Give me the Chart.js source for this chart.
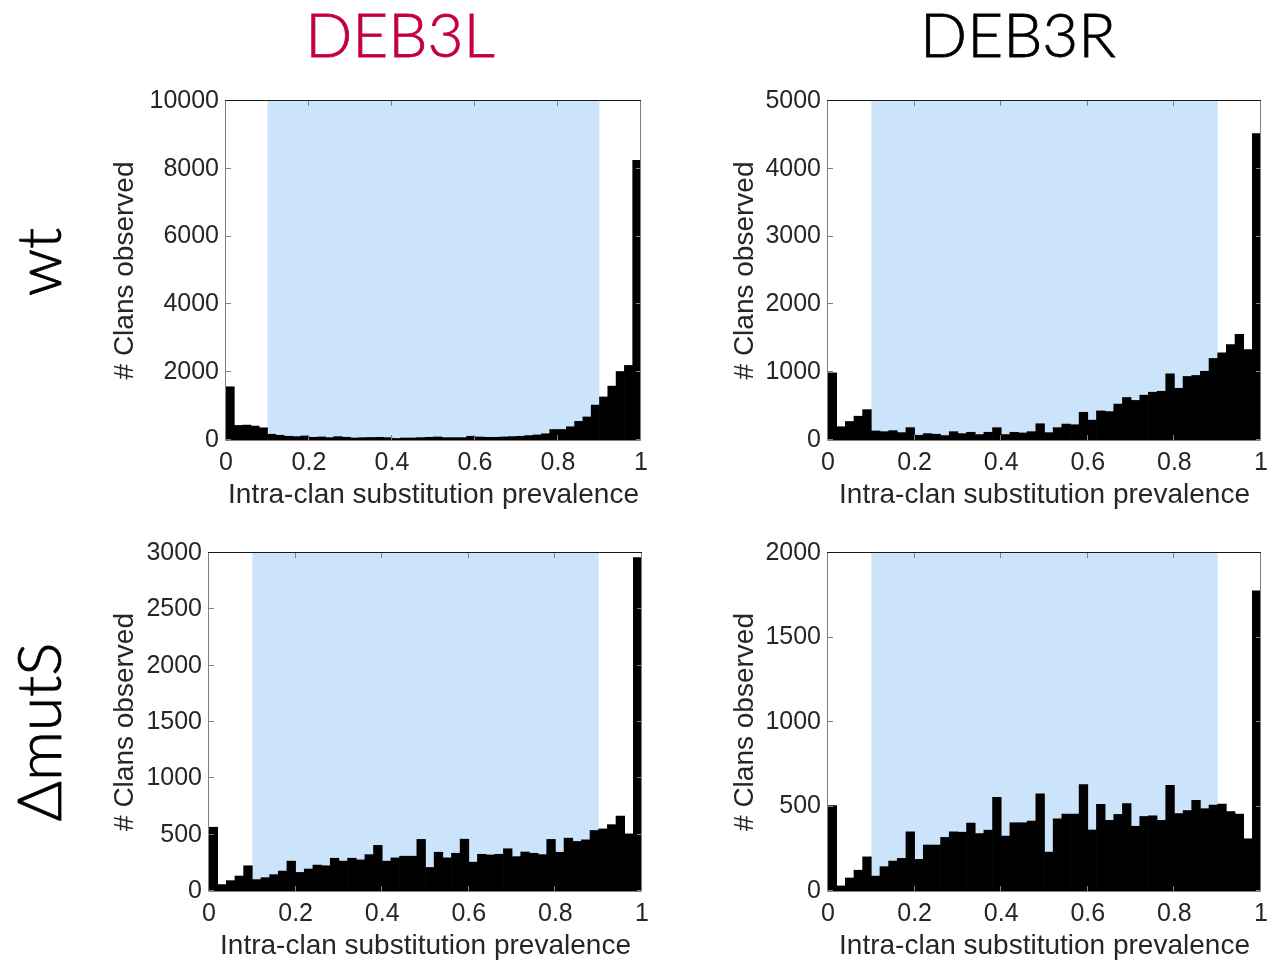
<!DOCTYPE html>
<html>
<head>
<meta charset="utf-8">
<script src="https://cdn.jsdelivr.net/npm/chart.js@4/dist/chart.umd.min.js"></script>
<style>
  html, body { margin: 0; padding: 0; background: #fff; width: 1278px; height: 966px; overflow: hidden; }
  .panel { position: absolute; }
  .col-title {
    position: absolute; width: 300px; text-align: center; white-space: nowrap;
    font-family: Lato, "Noto Sans", sans-serif; font-weight: 300; font-size: 62px; line-height: 62px;
    -webkit-text-stroke: 0.8px currentColor;
  }
  .row-title {
    position: absolute; white-space: nowrap; color: #000;
    font-family: Lato, "Noto Sans", sans-serif; font-weight: 300; font-size: 62px; line-height: 62px;
    -webkit-text-stroke: 0.8px currentColor;
    transform: translate(-50%, -50%) rotate(-90deg);
  }
</style>
</head>
<body>
<div class="col-title" style="left:250px; top:2px; color:#c1003f;">DEB3L</div>
<div class="col-title" style="left:868px; top:2px; color:#000;">DEB3R</div>
<div class="row-title" style="left:37px; top:262px;">wt</div>
<div class="row-title" style="left:37px; top:732px;">&Delta;mutS</div>

<canvas id="wtL" class="panel"></canvas>
<canvas id="wtR" class="panel"></canvas>
<canvas id="mutL" class="panel"></canvas>
<canvas id="mutR" class="panel"></canvas>

<script>
// Bin centres of the 50 prevalence bins (width 0.02)
const binCenters = [
  0.01, 0.03, 0.05, 0.07, 0.09, 0.11, 0.13, 0.15, 0.17, 0.19,
  0.21, 0.23, 0.25, 0.27, 0.29, 0.31, 0.33, 0.35, 0.37, 0.39,
  0.41, 0.43, 0.45, 0.47, 0.49, 0.51, 0.53, 0.55, 0.57, 0.59,
  0.61, 0.63, 0.65, 0.67, 0.69, 0.71, 0.73, 0.75, 0.77, 0.79,
  0.81, 0.83, 0.85, 0.87, 0.89, 0.91, 0.93, 0.95, 0.97, 0.99
];

// Clan counts per bin
const wtDEB3L = [
  1570, 430, 440, 410, 360, 170, 140, 110, 100, 120,
  80, 90, 70, 100, 80, 60, 70, 75, 80, 70,
  45, 60, 60, 70, 80, 90, 70, 70, 70, 110,
  90, 80, 80, 90, 100, 110, 130, 150, 184, 310,
  310, 390, 550, 680, 1030, 1270, 1590, 2020, 2200, 8250
];
const wtDEB3R = [
  990, 196, 273, 351, 448, 133, 123, 138, 109, 182,
  70, 94, 85, 65, 123, 94, 114, 80, 114, 182,
  80, 114, 104, 123, 240, 109, 182, 235, 225, 409,
  293, 429, 419, 530, 627, 584, 661, 705, 719, 976,
  763, 937, 952, 1014, 1203, 1286, 1407, 1558, 1334, 4520
];
const mutSDEB3L = [
  566, 57, 92, 133, 224, 101, 118, 145, 177, 265,
  165, 195, 230, 224, 291, 265, 291, 276, 323, 405,
  265, 294, 309, 309, 458, 209, 344, 294, 335, 460,
  256, 326, 320, 326, 375, 305, 346, 335, 323, 458,
  344, 469, 440, 454, 537, 551, 589, 665, 507, 2960
];
const mutSDEB3R = [
  505, 30, 77, 123, 202, 88, 144, 177, 193, 350,
  187, 272, 272, 317, 350, 348, 402, 340, 360, 555,
  325, 404, 404, 414, 575, 230, 427, 455, 455, 629,
  361, 513, 418, 453, 518, 383, 441, 445, 418, 625,
  458, 476, 536, 487, 509, 515, 470, 455, 309, 1776
];

// Shaded intermediate-prevalence window
const bandRange = [0.1, 0.9];

// Axis tick settings
const xTickStep = 0.2;
const yAxisMax = { wtL: 10000, wtR: 5000, mutL: 3000, mutR: 2000 };
const yTickStep = { wtL: 2000, wtR: 1000, mutL: 500, mutR: 500 };

const xTitle = 'Intra-clan substitution prevalence';
const yTitle = '# Clans observed';

const TEXT = '#262626';
const AXIS_GREY = '#808080';
const BAND = 'rgb(204,228,251)';
const FONT = '"Liberation Sans", Arial, sans-serif';

Chart.defaults.font.family = FONT;
Chart.defaults.color = TEXT;

// Plot-area boxes (page pixels) and the x of each y-axis title
const layout = {
  wtL:  { l: 226, t: 95,  r: 641,  b: 440, yTitleX: 125 },
  wtR:  { l: 828, t: 95,  r: 1261, b: 440, yTitleX: 745 },
  mutL: { l: 209, t: 547, r: 642,  b: 891, yTitleX: 125 },
  mutR: { l: 828, t: 547, r: 1261, b: 891, yTitleX: 745 }
};
const Y_AXIS_W = 130, X_AXIS_H = 72, PAD_T = 16, PAD_R = 16;

// Shaded window behind the bars, and a MATLAB-style box with inward ticks on top
const boxPlugin = {
  id: 'boxFrame',
  beforeDatasetsDraw(chart) {
    const { ctx, chartArea: a, scales: { x } } = chart;
    const x0 = x.getPixelForValue(bandRange[0]);
    const x1 = x.getPixelForValue(bandRange[1]);
    ctx.save();
    ctx.fillStyle = BAND;
    ctx.fillRect(x0, a.top, x1 - x0, a.bottom - a.top);
    ctx.restore();
  },
  afterDatasetsDraw(chart) {
    const { ctx, chartArea: a, scales: { x, y } } = chart;
    const L = Math.round(a.left), R = Math.round(a.right), T = Math.round(a.top), B = Math.round(a.bottom);
    ctx.save();
    ctx.lineWidth = 1;
    ctx.strokeStyle = AXIS_GREY;
    ctx.beginPath();
    y.ticks.forEach(tk => {
      const py = Math.round(y.getPixelForValue(tk.value)) - 0.5;
      ctx.moveTo(L, py); ctx.lineTo(L + 5, py);
      ctx.moveTo(R, py); ctx.lineTo(R - 5, py);
    });
    x.ticks.forEach(tk => {
      const px = Math.round(x.getPixelForValue(tk.value)) - 0.5;
      ctx.moveTo(px, B); ctx.lineTo(px, B - 5);
      ctx.moveTo(px, T); ctx.lineTo(px, T + 5);
    });
    ctx.moveTo(L - 0.5, T); ctx.lineTo(L - 0.5, B + 0.5);
    ctx.lineTo(R - 0.5, B + 0.5); ctx.lineTo(R - 0.5, T);
    ctx.stroke();
    ctx.strokeStyle = '#1a1a1a';
    ctx.beginPath();
    ctx.moveTo(L - 1, T - 0.5); ctx.lineTo(R, T - 0.5);
    ctx.stroke();
    ctx.restore();
  }
};

function makePanel(id, counts) {
  const box = layout[id];
  const left = box.l - Y_AXIS_W;
  const top = box.t - PAD_T;
  const width = box.r + PAD_R - left;
  const height = box.b + X_AXIS_H - top;
  const canvas = document.getElementById(id);
  canvas.width = width; canvas.height = height;
  canvas.style.left = left + 'px'; canvas.style.top = top + 'px';
  canvas.style.width = width + 'px'; canvas.style.height = height + 'px';

  new Chart(canvas, {
    type: 'bar',
    data: {
      datasets: [{
        data: binCenters.map((c, i) => ({ x: c, y: counts[i] })),
        backgroundColor: '#000',
        borderWidth: 0,
        barPercentage: 1,
        categoryPercentage: 1
      }]
    },
    options: {
      responsive: false,
      devicePixelRatio: 1,
      animation: false,
      layout: { padding: { top: PAD_T, right: PAD_R, left: 0, bottom: 0 } },
      plugins: { legend: { display: false }, tooltip: { enabled: false } },
      scales: {
        x: {
          type: 'linear', min: 0, max: 1, offset: false,
          grid: { display: false, drawTicks: false, offset: false },
          border: { display: false },
          ticks: {
            stepSize: xTickStep, padding: 8, maxRotation: 0, autoSkip: false,
            font: { size: 25 }, color: TEXT,
            callback: v => String(+v.toFixed(1))
          },
          title: { display: true, text: xTitle, color: TEXT, font: { size: 28 }, padding: { top: 0, bottom: 0 } },
          afterFit: s => { s.height = X_AXIS_H; }
        },
        y: {
          min: 0, max: yAxisMax[id],
          grid: { display: false, drawTicks: false },
          border: { display: false },
          ticks: {
            stepSize: yTickStep[id], padding: 7, autoSkip: false,
            font: { size: 25 }, color: TEXT,
            callback: v => String(v)
          },
          title: {
            display: true, text: yTitle, color: TEXT, font: { size: 28 },
            padding: { top: box.yTitleX - left - 16.8, bottom: 0 }
          },
          afterFit: s => { s.width = Y_AXIS_W; }
        }
      }
    },
    plugins: [boxPlugin]
  });
}

makePanel('wtL', wtDEB3L);
makePanel('wtR', wtDEB3R);
makePanel('mutL', mutSDEB3L);
makePanel('mutR', mutSDEB3R);
</script>
</body>
</html>
